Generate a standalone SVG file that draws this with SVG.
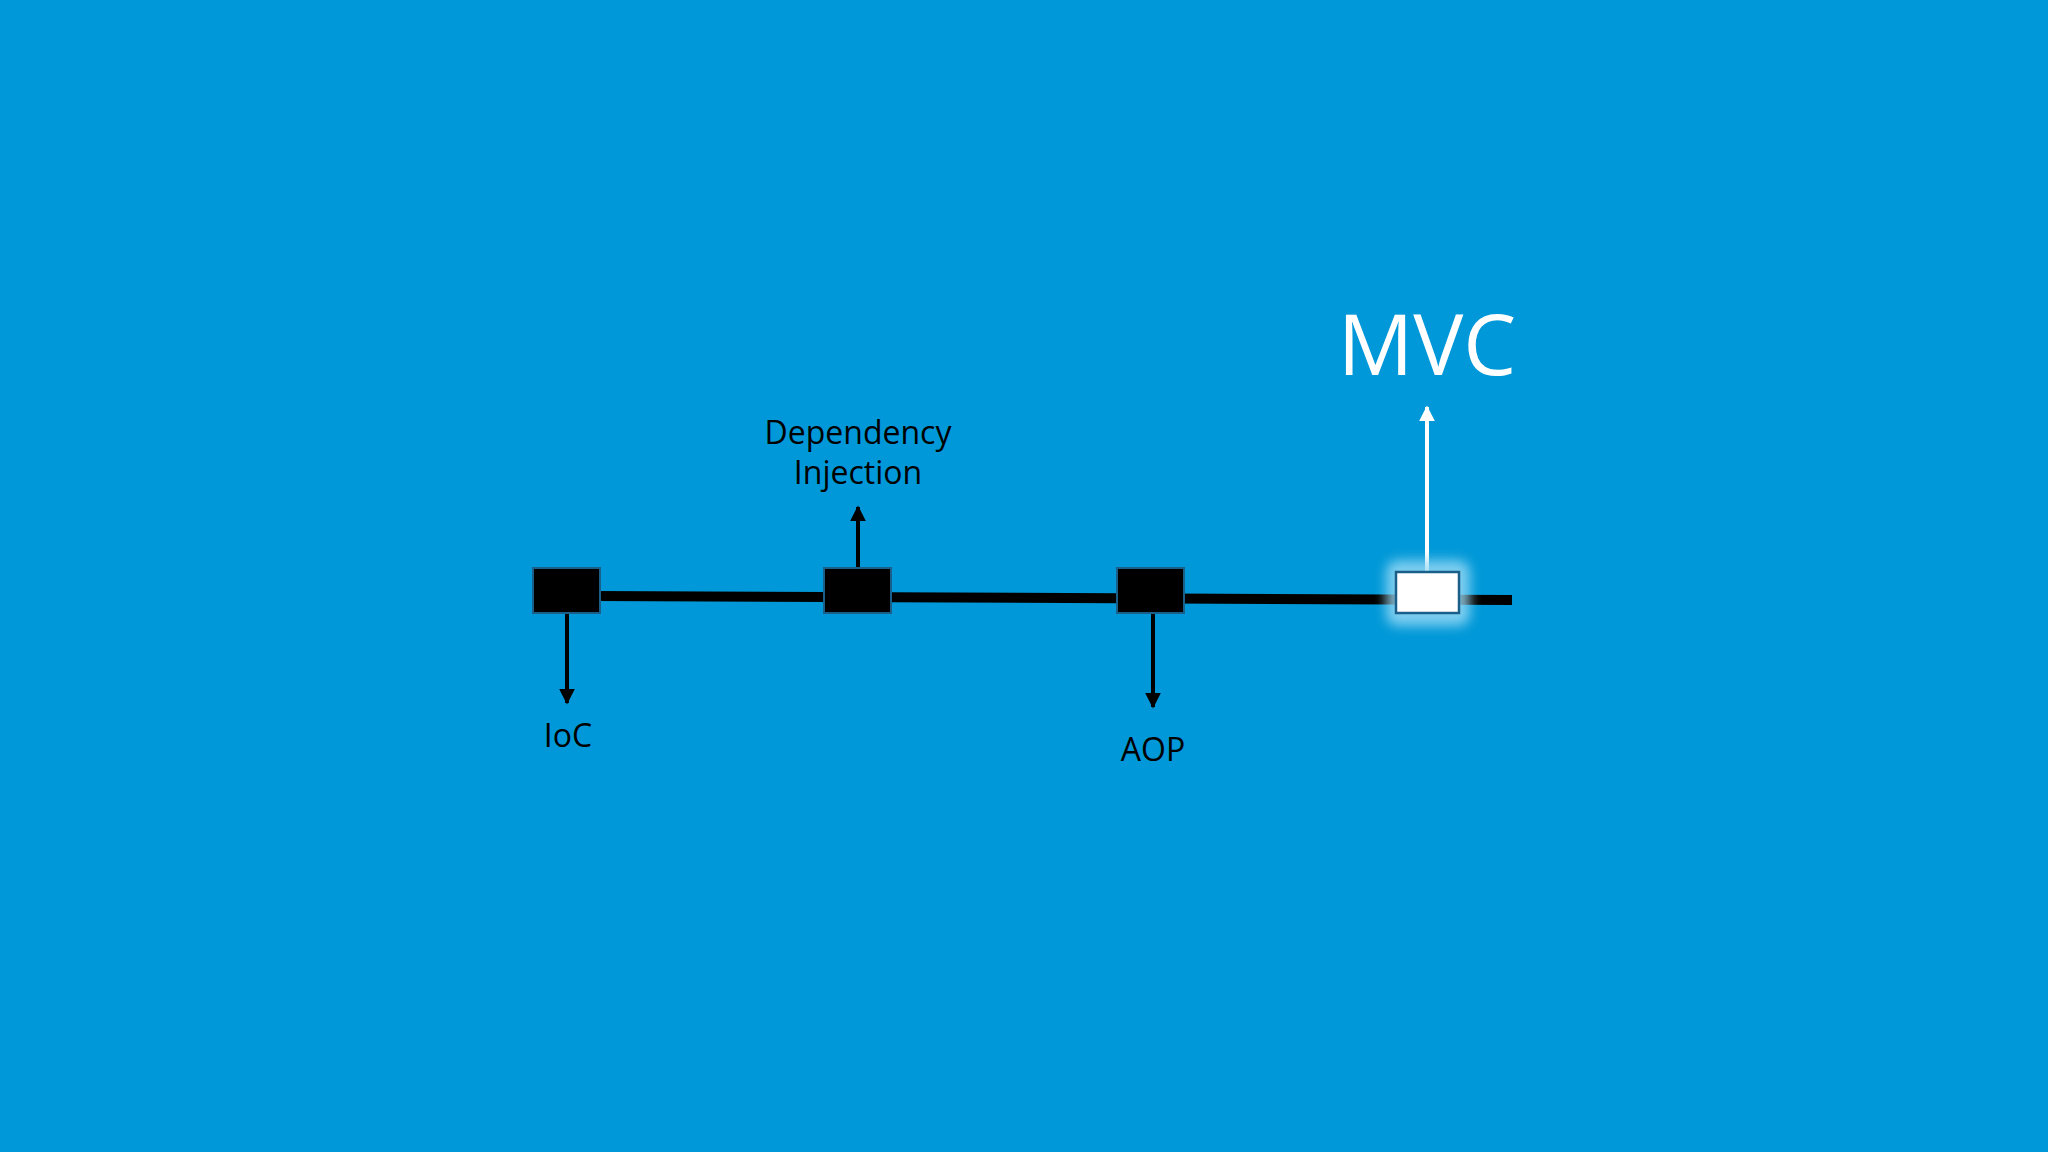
<svg xmlns="http://www.w3.org/2000/svg" width="2048" height="1152" viewBox="0 0 2048 1152">
<defs>
<style>
.lbl{font-family:"Open Sans","Noto Sans",sans-serif;font-size:32px;fill:#000;text-anchor:middle}
.node{fill:#000;stroke:#1a5f8a;stroke-width:2}
</style>
<marker id="ab" viewBox="0 0 10 10" refX="9" refY="5" markerWidth="4" markerHeight="4" orient="auto"><path d="M0,0L10,5L0,10z" fill="#000"/></marker>
<marker id="aw" viewBox="0 0 10 10" refX="9" refY="5" markerWidth="4" markerHeight="4" orient="auto"><path d="M0,0L10,5L0,10z" fill="#fff"/></marker>
<filter id="glow" x="-50%" y="-50%" width="200%" height="200%"><feGaussianBlur stdDeviation="6"/></filter>
</defs>
<rect width="2048" height="1152" fill="#0098d8"/>
<g id="connectors">
<line x1="595" y1="596" x2="1512" y2="600" stroke="#000" stroke-width="10"/>
<line x1="858" y1="568" x2="858" y2="507" stroke="#000" stroke-width="4" marker-end="url(#ab)"/>
<line x1="567" y1="613" x2="567" y2="703" stroke="#000" stroke-width="4" marker-end="url(#ab)"/>
<line x1="1153" y1="613" x2="1153" y2="707" stroke="#000" stroke-width="4" marker-end="url(#ab)"/>
<line x1="1427" y1="572" x2="1427" y2="407" stroke="#fff" stroke-width="4" marker-end="url(#aw)"/>
</g>
<g id="ioc"><rect class="node" x="533" y="568" width="67" height="45"/><text class="lbl" x="568" y="747">IoC</text></g>
<g id="di"><rect class="node" x="824" y="568" width="67" height="45"/><text class="lbl" x="858" y="444">Dependency</text><text class="lbl" x="858" y="484">Injection</text></g>
<g id="aop"><rect class="node" x="1117" y="568" width="67" height="45"/><text class="lbl" x="1153" y="761">AOP</text></g>
<g id="mvc">
<rect x="1386" y="560" width="84" height="66" rx="12" fill="#9ddcf5" opacity="0.8" filter="url(#glow)"/>
<rect x="1396" y="572" width="63" height="41" fill="#fff" stroke="#1a5f8a" stroke-width="2.5"/>
<text x="1427" y="375" font-family="Open Sans, Noto Sans, sans-serif" font-size="84" fill="#fff" text-anchor="middle">MVC</text>
</g>
</svg>
